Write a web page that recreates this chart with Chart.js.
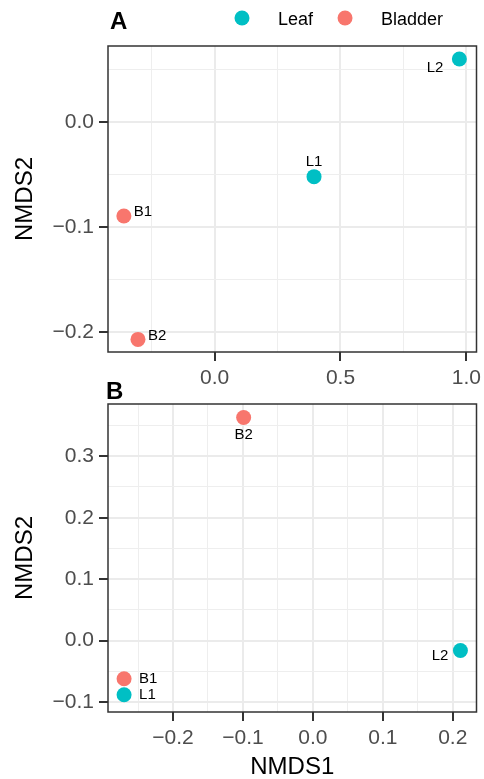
<!DOCTYPE html>
<html>
<head>
<meta charset="utf-8">
<script src="https://cdn.jsdelivr.net/npm/chart.js@4.4.1/dist/chart.umd.min.js"></script>
<style>
  body { margin: 0; background: #fff; }
  #wrap { position: relative; width: 484px; height: 779px; }
  canvas { position: absolute; left: 0; }
  #chartA { top: 0; }
  #chartB { top: 370px; }
</style>
</head>
<body>
<div id="wrap">
  <canvas id="chartA" width="484" height="390"></canvas>
  <canvas id="chartB" width="484" height="409"></canvas>
</div>
<script>
const FONT = "'Liberation Sans', Arial, sans-serif";

const groups = ['Leaf', 'Bladder'];
const groupColors = ['#00BFC4', '#F8766D'];

// panel A
const samplesA = ['L1', 'L2', 'B1', 'B2'];
const groupA = ['Leaf', 'Leaf', 'Bladder', 'Bladder'];
const nmds1A = [0.395, 0.972, -0.36, -0.304];
const nmds2A = [-0.052, 0.060, -0.0895, -0.207];
const xTicksA = [-0.25, 0, 0.25, 0.5, 0.75, 1.0];
const xMajorA = [0, 0.5, 1.0];
const yTicksA = [-0.2, -0.15, -0.1, -0.05, 0, 0.05];
const yMajorA = [-0.2, -0.1, 0];

// panel B
const samplesB = ['L1', 'L2', 'B1', 'B2'];
const groupB = ['Leaf', 'Leaf', 'Bladder', 'Bladder'];
const nmds1B = [-0.27, 0.211, -0.27, -0.099];
const nmds2B = [-0.088, -0.016, -0.062, 0.363];
const xTicksB = [-0.25, -0.2, -0.15, -0.1, -0.05, 0, 0.05, 0.1, 0.15, 0.2];
const xMajorB = [-0.2, -0.1, 0, 0.1, 0.2];
const yTicksB = [-0.1, -0.05, 0, 0.05, 0.1, 0.15, 0.2, 0.25, 0.3, 0.35];
const yMajorB = [-0.1, 0, 0.1, 0.2, 0.3];

const isIn = (v, list) => list.some(m => Math.abs(m - v) < 1e-9);
const fmt = v => (v < 0 ? '\u2212' : '') + Math.abs(v).toFixed(1);

// labels next to the points
const pointLabels = {
  id: 'pointLabels',
  afterDatasetsDraw(chart, args, opts) {
    const ctx = chart.ctx;
    ctx.save();
    ctx.font = '15px ' + FONT;
    ctx.fillStyle = '#000';
    ctx.textBaseline = 'middle';
    chart.data.datasets.forEach((ds, i) => {
      chart.getDatasetMeta(i).data.forEach((pt, j) => {
        const name = ds.data[j].name;
        const o = opts.offsets[name];
        ctx.textAlign = o[2];
        ctx.fillText(name, pt.x + o[0], pt.y + o[1]);
      });
    });
    ctx.restore();
  }
};

// panel border, panel tag and legend
const decor = {
  id: 'decor',
  afterDraw(chart, args, opts) {
    const { ctx, chartArea: a } = chart;
    ctx.save();
    ctx.strokeStyle = '#333';
    ctx.lineWidth = 1.5;
    ctx.strokeRect(a.left, a.top, a.right - a.left, a.bottom - a.top);

    ctx.fillStyle = '#000';
    ctx.textAlign = 'left';
    ctx.textBaseline = 'alphabetic';
    ctx.font = 'bold 24px ' + FONT;
    ctx.fillText(opts.tag, opts.tagX, 29);

    if (opts.legend) {
      ctx.font = '18px ' + FONT;
      let x = opts.legendX;
      chart.data.datasets.forEach(ds => {
        ctx.fillStyle = ds.backgroundColor;
        ctx.beginPath();
        ctx.arc(x, 18, 7.5, 0, Math.PI * 2);
        ctx.fill();
        ctx.fillStyle = '#000';
        ctx.fillText(ds.label, x + 36, 25);
        x += 36 + ctx.measureText(ds.label).width + 32;
      });
    }
    ctx.restore();
  }
};

function makeScale(ticks, major, range, size, title) {
  return {
    type: 'linear',
    min: range[0],
    max: range[1],
    afterBuildTicks: s => { s.ticks = ticks.map(v => ({ value: v })); },
    afterFit: s => {
      if (s.isHorizontal()) {
        s.height = size;
        s.paddingLeft = 0;
        s.paddingRight = 0;
      } else {
        s.width = size;
        s.paddingTop = 0;
        s.paddingBottom = 0;
      }
    },
    ticks: {
      autoSkip: false,
      maxRotation: 0,
      padding: 5,
      color: '#4D4D4D',
      font: { family: FONT, size: 21 },
      callback: v => isIn(v, major) ? fmt(v) : ''
    },
    grid: {
      color: c => isIn(c.tick.value, major) ? '#EBEBEB' : '#EEEEEE',
      lineWidth: c => isIn(c.tick.value, major) ? 2 : 1,
      tickColor: c => isIn(c.tick.value, major) ? '#333' : 'rgba(0,0,0,0)',
      tickWidth: 2,
      tickLength: 9
    },
    border: { display: false },
    title: {
      display: !!title,
      text: title,
      color: '#000',
      font: { family: FONT, size: 24, lineHeight: 1 },
      padding: { top: 13, bottom: 0 }
    }
  };
}

function makeChart(id, samples, grp, xs, ys, cfg) {
  const datasets = groups.map((g, gi) => ({
    label: g,
    backgroundColor: groupColors[gi],
    borderWidth: 0,
    pointRadius: 7.5,
    data: samples.map((s, i) => ({ x: xs[i], y: ys[i], name: s, g: grp[i] }))
                 .filter(p => p.g === g)
  }));
  return new Chart(document.getElementById(id), {
    type: 'scatter',
    data: { datasets },
    options: {
      responsive: false,
      animation: false,
      layout: { padding: { top: cfg.top, right: 6, left: 0, bottom: 0 } },
      scales: {
        x: makeScale(cfg.xTicks, cfg.xMajor, cfg.xRange, cfg.xSize, cfg.xTitle),
        y: makeScale(cfg.yTicks, cfg.yMajor, cfg.yRange, 108, 'NMDS2')
      },
      plugins: {
        legend: { display: false },
        tooltip: { enabled: false },
        pointLabels: { offsets: cfg.offsets },
        decor: { tag: cfg.tag, tagX: cfg.tagX, legend: cfg.legend, legendX: 242 }
      }
    },
    plugins: [pointLabels, decor]
  });
}

makeChart('chartA', samplesA, groupA, nmds1A, nmds2A, {
  top: 46, xSize: 38, xTitle: '',
  xTicks: xTicksA, xMajor: xMajorA, xRange: [-0.423, 1.04],
  yTicks: yTicksA, yMajor: yMajorA, yRange: [-0.219, 0.0724],
  tag: 'A', tagX: 110, legend: true,
  offsets: { L1: [0, -15, 'center'], L2: [-16, 9, 'right'], B1: [10, -4, 'left'], B2: [10, -4, 'left'] }
});

makeChart('chartB', samplesB, groupB, nmds1B, nmds2B, {
  top: 34, xSize: 67, xTitle: 'NMDS1',
  xTicks: xTicksB, xMajor: xMajorB, xRange: [-0.293, 0.234],
  yTicks: yTicksB, yMajor: yMajorB, yRange: [-0.116, 0.385],
  tag: 'B', tagX: 106, legend: false,
  offsets: { L1: [15, 0, 'left'], L2: [-12, 5, 'right'], B1: [15, 0, 'left'], B2: [0, 17, 'center'] }
});
</script>
</body>
</html>
